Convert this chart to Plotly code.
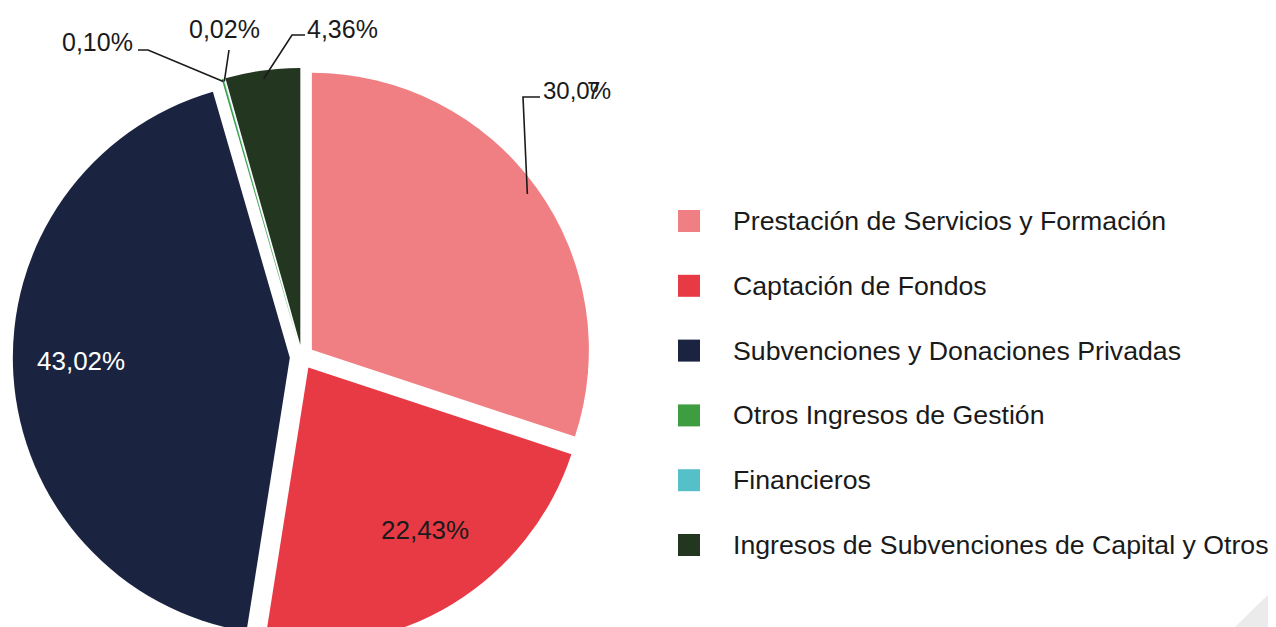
import math
import plotly.graph_objects as go

# ---------------- data ----------------
categories = [
    "Prestación de Servicios y Formación",
    "Captación de Fondos",
    "Subvenciones y Donaciones Privadas",
    "Otros Ingresos de Gestión",
    "Financieros",
    "Ingresos de Subvenciones de Capital y Otros",
]
values = [30.07, 22.43, 43.02, 0.10, 0.02, 4.36]
value_labels = ["30,0%", "22,43%", "43,02%", "0,10%", "0,02%", "4,36%"]
colors = ["#F07F83", "#E83A45", "#1A2440", "#3E9D41", "#55C0C8", "#233620"]

# ---------------- layout / style ----------------
OFF = 8                     # page body margin (screen px)
W, H = 1276, 680            # figure size (bottom part falls below the window)
FONT = "Liberation Sans, Arial, sans-serif"
TXT = "#1a1a1a"
PULL = 0.044
CX, CY = 302, 357           # pie centre (screen px)
R = 277
D = PULL * R
HALF = R * (1 + PULL)


def px(x):
    return (x - OFF) / W


def py(y):
    return 1 - (y - OFF) / H


# slice geometry (clockwise from 12 o'clock)
total = sum(values)
mids = []
acc = 0.0
for v in values:
    mids.append((acc + v / 2) / total * 360.0)
    acc += v


def slice_point(i, frac, dang=0.0):
    a = math.radians(mids[i] + dang)
    rr = D + frac * R
    return CX + rr * math.sin(a), CY - rr * math.cos(a)


fig = go.Figure(go.Pie(
    labels=categories, values=values, sort=False, direction="clockwise",
    rotation=0, pull=[PULL] * len(values), textinfo="none",
    marker=dict(colors=colors, line=dict(width=0)),
    showlegend=False, hoverinfo="label+percent",
    domain=dict(x=[px(CX - HALF), px(CX + HALF)], y=[py(CY + HALF), py(CY - HALF)]),
))

annotations = []
shapes = []

# inside labels: (radius fraction, angle offset, colour)
inside = {1: (0.72, -4.0, TXT), 2: (0.755, 2.4, "white")}
for i, (k, da, col) in inside.items():
    x, y = slice_point(i, k, da)
    annotations.append(dict(x=px(x), y=py(y), xref="paper", yref="paper",
                            text=value_labels[i], showarrow=False,
                            font=dict(family=FONT, size=26, color=col),
                            xanchor="center", yanchor="middle"))

# outside labels: (start fraction, path points after start, text pos, anchor, size)
outside = {
    0: (0.96, [(523, 97), (540, 97)], (541, 90), "left", 24),
    3: (0.99, [(148, 50), (138, 50)], (135, 42), "right", 25),
    4: (0.99, [(229, 50)], (224, 29), "center", 25),
    5: (0.97, [(292, 35), (305, 35)], (305, 29), "left", 25),
}
for i, (k, pts, tpos, anc, fs) in outside.items():
    sx, sy = slice_point(i, k)
    path = f"M{px(sx)},{py(sy)}" + "".join(f" L{px(x)},{py(y)}" for x, y in pts)
    shapes.append(dict(type="path", path=path, xref="paper", yref="paper",
                       line=dict(color=TXT, width=1.6)))
    annotations.append(dict(x=px(tpos[0]), y=py(tpos[1]), xref="paper", yref="paper",
                            text=value_labels[i], showarrow=False,
                            font=dict(family=FONT, size=fs, color=TXT),
                            xanchor=anc, yanchor="middle"))
# overlapping "7" of the first label (as rendered in the original)
annotations.append(dict(x=px(585), y=py(90), xref="paper", yref="paper",
                        text="7", showarrow=False,
                        font=dict(family=FONT, size=24, color=TXT),
                        xanchor="left", yanchor="middle"))

# manual legend
LEG_X, LEG_Y0, LEG_DY, SQ = 678, 221, 64.8, 22
for i, (name, col) in enumerate(zip(categories, colors)):
    yc = LEG_Y0 + i * LEG_DY
    shapes.append(dict(type="rect", xref="paper", yref="paper",
                       x0=px(LEG_X), x1=px(LEG_X + SQ),
                       y0=py(yc + SQ / 2), y1=py(yc - SQ / 2),
                       fillcolor=col, line=dict(width=0)))
    annotations.append(dict(x=px(731), y=py(yc), xref="paper", yref="paper",
                            text=name, showarrow=False,
                            font=dict(family=FONT, size=26.7, color=TXT),
                            xanchor="left", yanchor="middle"))

# corner decoration
shapes.append(dict(type="path", xref="paper", yref="paper",
                   path=f"M{px(1235)},{py(627)} L{px(1276)},{py(627)} L{px(1276)},{py(587)} Z",
                   fillcolor="#EBEBEB", line=dict(width=0)))

fig.update_layout(width=W, height=H, margin=dict(l=0, r=0, t=0, b=0),
                  paper_bgcolor="white", plot_bgcolor="white",
                  shapes=shapes, annotations=annotations)
fig.write_html("out.html")
